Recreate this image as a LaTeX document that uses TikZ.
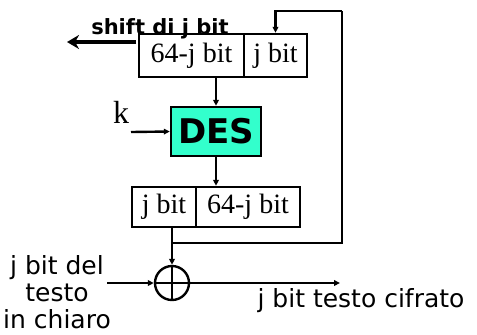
\documentclass[tikz,border=0pt]{standalone}
\usepackage{fontspec}
\setmainfont{Liberation Serif}
\newfontfamily\comic{DejaVu Sans}
\usepackage{tikz}
\usetikzlibrary{arrows.meta, positioning, calc}

\definecolor{desfill}{RGB}{51,255,204}

\begin{document}
\begin{tikzpicture}[
    x=0.5pt, y=-0.5pt,
    cell/.style={rectangle, draw=black, line width=1.2pt, minimum height=21.5pt, inner sep=0pt, text centered, font=\fontsize{14}{16}\selectfont},
    cipher/.style={rectangle, draw=black, line width=1.2pt, fill=desfill, minimum width=45pt, minimum height=24.5pt, inner sep=0pt, font=\comic\bfseries\fontsize{17}{19}\selectfont},
    label/.style={inner sep=0pt, align=center, font=\comic\fontsize{12.5}{13.5}\selectfont},
    arrow/.style={line width=1.2pt, -{Triangle[length=3pt,width=2.8pt]}},
    wire/.style={line width=1.2pt},
]
    \useasboundingbox (0,0) rectangle (477,334);

    \node (topL) [cell, minimum width=52.5pt] at (191.5,55.5) {64-j bit};
    \node (topR) [cell, minimum width=31.5pt] at (275.5,55.5) {j bit};
    \node (des) [cipher] at (216,131.5) {DES};
    \node (botL) [cell, minimum width=32pt, minimum height=20pt] at (164,207) {j bit};
    \node (botR) [cell, minimum width=52pt, minimum height=20pt] at (248,207) {64-j bit};
    \node (xor) [circle, draw=black, line width=1.2pt, minimum size=17pt, inner sep=0pt] at (172,283) {};
    \draw [wire] (xor.north) -- (xor.south) (xor.west) -- (xor.east);

    \coordinate (kin) at (131,132);
    \node (klabel) [inner sep=0pt, font=\fontsize{16}{18}\selectfont] at (121,112) {k};
    \coordinate (fb) at (172,243);
    \coordinate (ret) at (342,11);
    \coordinate (pin) at (107,283);
    \coordinate (cout) at (340,283);
    \coordinate (shstart) at (136,42);
    \coordinate (shend) at (67,42);

    \node (shift) [inner sep=0pt, font=\comic\bfseries\fontsize{10.5}{12}\selectfont] at (160,29) {shift di j bit};
    \node (plain) [label] at (57,292) {j bit del\\testo\\in chiaro};
    \node (ctext) [label] at (361,301) {j bit testo cifrato};

    \draw [arrow] (des.north |- topL.south) -- (des.north);
    \draw [arrow] (kin) -- (des.west);
    \draw [arrow] (des.south) -- (des.south |- botR.north);
    \draw [arrow] (xor.north |- botL.south) -- (xor.north);
    \draw [wire] (fb) -| (ret);
    \draw [arrow] (ret) -| (topR.north);
    \draw [arrow] (pin) -- (xor.west);
    \draw [arrow] (xor.east) -- (cout);
    \draw [line width=2pt, -{Stealth[length=6pt,width=7pt]}] (shstart) -- (shend);

\end{tikzpicture}
\end{document}
